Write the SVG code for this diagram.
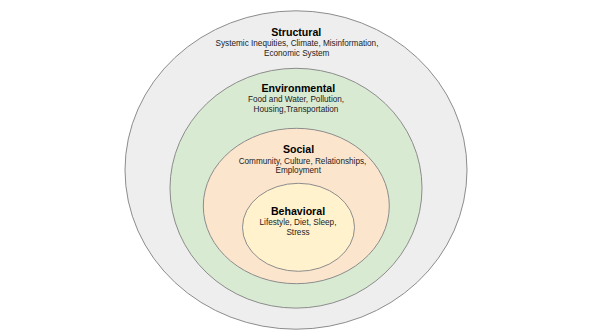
<svg xmlns="http://www.w3.org/2000/svg" width="592" height="333" viewBox="0 0 592 333">
<style>
.ring{stroke:#8c8c8c;stroke-width:1}
.t{font-family:"Liberation Sans",Arial,sans-serif;font-weight:bold;font-size:10.6px;fill:#000;text-anchor:middle}
.b{font-family:"Liberation Sans",Arial,sans-serif;font-size:8.2px;fill:#222;text-anchor:middle}
</style>
<rect width="592" height="333" fill="#ffffff"/>
<g id="structural">
<ellipse class="ring" cx="296" cy="170" rx="171" ry="159.2" fill="#eeeeee"/>
<text class="t" x="296.3" y="36">Structural</text>
<text class="b" x="297" y="46.3">Systemic Inequities, Climate, Misinformation,</text>
<text class="b" x="296.7" y="56.3">Economic System</text>
</g>
<g id="environmental">
<ellipse class="ring" cx="296" cy="188.2" rx="126" ry="119.9" fill="#d9ead3"/>
<text class="t" x="298.3" y="91.7">Environmental</text>
<text class="b" x="296" y="101.7">Food and Water, Pollution,</text>
<text class="b" x="296" y="111.7">Housing,Transportation</text>
</g>
<g id="social">
<ellipse class="ring" cx="296.3" cy="206" rx="93" ry="77.7" fill="#fce5cd"/>
<text class="t" x="298.5" y="153.3">Social</text>
<text class="b" x="302.5" y="163.5">Community, Culture, Relationships,</text>
<text class="b" x="298.2" y="173.3">Employment</text>
</g>
<g id="behavioral">
<ellipse class="ring" cx="298.5" cy="227.3" rx="56" ry="44" fill="#fff2cc"/>
<text class="t" x="298" y="215">Behavioral</text>
<text class="b" x="298" y="225.3">Lifestyle, Diet, Sleep,</text>
<text class="b" x="298" y="235.3">Stress</text>
</g>
<g id="connectors"/>
</svg>
